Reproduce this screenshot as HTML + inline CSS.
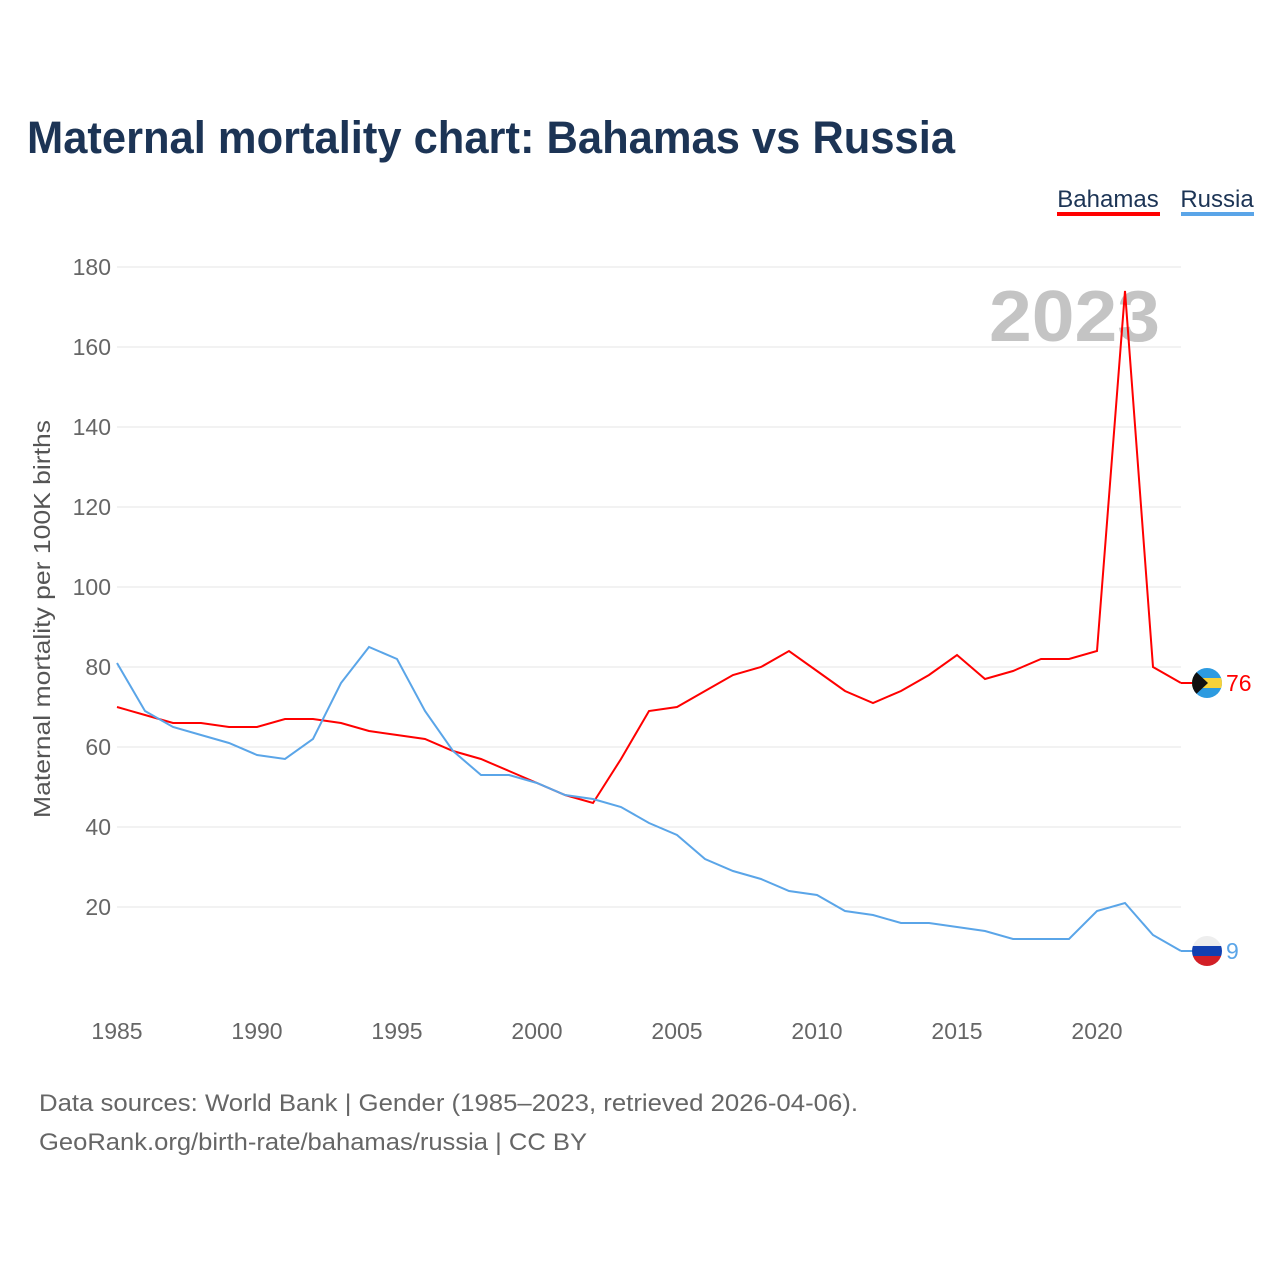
<!DOCTYPE html>
<html><head><meta charset="utf-8">
<style>
body{margin:0;background:#fff;}
svg text{font-family:"Liberation Sans",sans-serif;}
</style></head>
<body>
<svg id="chart" width="1280" height="1280" xmlns="http://www.w3.org/2000/svg">
<rect width="1280" height="1280" fill="#fff"/>
<text x="27" y="153" font-size="45" font-weight="bold" fill="#1c3455" textLength="928" lengthAdjust="spacingAndGlyphs">Maternal mortality chart: Bahamas vs Russia</text>
<g>
<text x="1108" y="207" font-size="24" fill="#1c3455" text-anchor="middle">Bahamas</text>
<rect x="1057" y="212" width="103" height="4" fill="#ff0000"/>
<text x="1217" y="207" font-size="24" fill="#1c3455" text-anchor="middle">Russia</text>
<rect x="1181" y="212" width="73" height="4" fill="#5aa5e8"/>
</g>
<text x="1160" y="341" font-size="72" font-weight="bold" fill="#c4c4c4" text-anchor="end" textLength="171" lengthAdjust="spacingAndGlyphs">2023</text>
<text transform="translate(50,619) rotate(-90)" font-size="23" fill="#555" text-anchor="middle" textLength="398" lengthAdjust="spacingAndGlyphs">Maternal mortality per 100K births</text>
<g id="grid"></g><g id="xt"></g><g id="lines"></g>
<text x="39" y="1111" font-size="24" fill="#666" textLength="819" lengthAdjust="spacingAndGlyphs">Data sources: World Bank | Gender (1985–2023, retrieved 2026-04-06).</text>
<text x="39" y="1150" font-size="24" fill="#666" textLength="548" lengthAdjust="spacingAndGlyphs">GeoRank.org/birth-rate/bahamas/russia | CC BY</text>
</svg>
<script>
const years=[];for(let y=1985;y<=2023;y++)years.push(y);
const bahamas=[70,68,66,66,65,65,67,67,66,64,63,62,59,57,54,51,48,46,57,69,70,74,78,80,84,79,74,71,74,78,83,77,79,82,82,84,174,80,76];
const russia=[81,69,65,63,61,58,57,62,76,85,82,69,59,53,53,51,48,47,45,41,38,32,29,27,24,23,19,18,16,16,15,14,12,12,12,19,21,13,9];
const yTicks=[20,40,60,80,100,120,140,160,180];
const xTicks=[1985,1990,1995,2000,2005,2010,2015,2020];
const NS="http://www.w3.org/2000/svg";
const X=y=>117+(y-1985)*28;
const Y=v=>987-v*4;
function mk(t,a,p){const e=document.createElementNS(NS,t);for(const k in a)e.setAttribute(k,a[k]);p.appendChild(e);return e;}
const grid=document.getElementById('grid');
yTicks.forEach(v=>{
 const l=mk('line',{x1:117,x2:1181,y1:Y(v),y2:Y(v),stroke:'#e6e6e6','stroke-width':1},grid);
 
 
 const t=mk('text',{x:111,y:Y(v)+8,'font-size':23,fill:'#666','text-anchor':'end'},grid);
 t.textContent=v;
 
 
});
const xt=document.getElementById('xt');
xTicks.forEach(v=>{
 const t=mk('text',{x:X(v),y:1039,'font-size':23,fill:'#666','text-anchor':'middle'},xt);
 t.textContent=v;
 
 
});
const lines=document.getElementById('lines');
function series(vals,color,name){
 const d=vals.map((v,i)=>(i?'L':'M')+X(years[i])+','+Y(v)).join(' ');
 const p=mk('path',{d:d,fill:'none',stroke:color,'stroke-width':2},lines);
 
 
 const last=vals[vals.length-1];
 const lx=X(years[years.length-1]);
 mk('line',{x1:lx,x2:lx+12,y1:Y(last),y2:Y(last),stroke:color,'stroke-width':2},lines);
 const g=mk('g',{},lines);
 
 
 const cx=lx+26,cy=Y(last);
 const cp='clip-'+name;
 const c=mk('clipPath',{id:cp},g);mk('circle',{cx:cx,cy:cy,r:15},c);
 const gg=mk('g',{'clip-path':'url(#'+cp+')'},g);
 if(name==='bahamas'){
  mk('rect',{x:cx-15,y:cy-15,width:30,height:30,fill:'#2d9be0'},gg);
  mk('rect',{x:cx-15,y:cy-5,width:30,height:10,fill:'#f7d23a'},gg);
  mk('polygon',{points:(cx-15)+','+(cy-15)+' '+(cx+1)+','+cy+' '+(cx-15)+','+(cy+15),fill:'#111'},gg);
 }else{
  mk('rect',{x:cx-15,y:cy-15,width:30,height:10,fill:'#eee'},gg);
  mk('rect',{x:cx-15,y:cy-5,width:30,height:10,fill:'#1240b0'},gg);
  mk('rect',{x:cx-15,y:cy+5,width:30,height:10,fill:'#d21f26'},gg);
 }
 const t=mk('text',{x:cx+19,y:cy+8,'font-size':23,fill:color},lines);
 t.textContent=last;
 
 
}
series(bahamas,'#ff0000','bahamas');
series(russia,'#5aa5e8','russia');
</script>
</body></html>
